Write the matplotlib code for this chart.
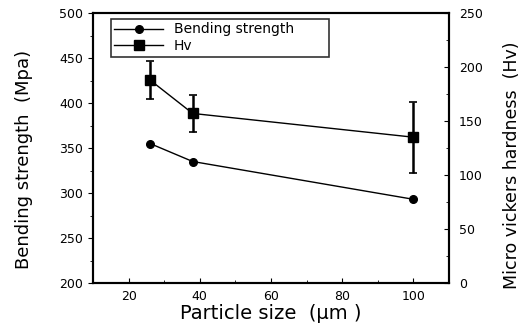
import matplotlib.pyplot as plt
from matplotlib.ticker import MultipleLocator

particle_size = [26, 38, 100]
bending_strength = [355, 335, 293]
hv_size = [26, 38, 100]
hv = [188, 157, 135]
hv_err = [18, 17, 33]

fig = plt.figure(figsize=(5.32, 3.23), dpi=100)
ax = fig.add_axes([93/532, 1 - 283/323, (449-93)/532, (283-13)/323])
ax2 = ax.twinx()

line_bs, = ax.plot(particle_size, bending_strength, marker='o', color='k', linewidth=1, markersize=5.5,
                   label="Bending strength")
line_hv = ax2.errorbar(hv_size, hv, yerr=hv_err, marker='s', color='k', linewidth=1, markersize=6.5,
                       capsize=3, elinewidth=1.8, capthick=1.2, label="Hv")

ax.set_xlim(10, 110)
ax.set_ylim(200, 500)
ax2.set_ylim(0, 250)

ax.set_xticks([20, 40, 60, 80, 100])
ax.xaxis.set_minor_locator(MultipleLocator(10))
ax.yaxis.set_major_locator(MultipleLocator(50))
ax.yaxis.set_minor_locator(MultipleLocator(25))
ax2.yaxis.set_major_locator(MultipleLocator(50))
ax2.yaxis.set_minor_locator(MultipleLocator(25))

ax.tick_params(axis='x', which='both', direction='in', labelsize=9, pad=5)
ax.tick_params(axis='y', which='both', direction='out', labelsize=9)
ax2.tick_params(axis='y', which='both', direction='in', labelsize=9, pad=7)
for a in (ax, ax2):
    for sp in a.spines.values():
        sp.set_linewidth(1.5)

ax.set_ylabel("Bending strength  (Mpa)", fontsize=13)
ax2.set_ylabel("Micro vickers hardness  (Hv)", fontsize=12.5)
ax.yaxis.set_label_coords(-0.169, 0.456)
ax2.yaxis.set_label_coords(1.152, 0.437)
ax.set_xlabel("Particle size  (\u03bcm )", fontsize=14, labelpad=1)

# legend frame stretched to the width of the original box
leg = ax.legend([line_bs, line_hv.lines[0]], ["Bending strength", "Hv"], loc='upper left',
                bbox_to_anchor=(0.05, 0.85, 0.612, 0.128), mode='expand', borderaxespad=0,
                fontsize=10, frameon=True, fancybox=False, edgecolor='k', handlelength=3.5,
                handletextpad=0.8, borderpad=0.25, labelspacing=0.2)
leg.get_frame().set_linewidth(1.2)

fig.savefig("out.png")
